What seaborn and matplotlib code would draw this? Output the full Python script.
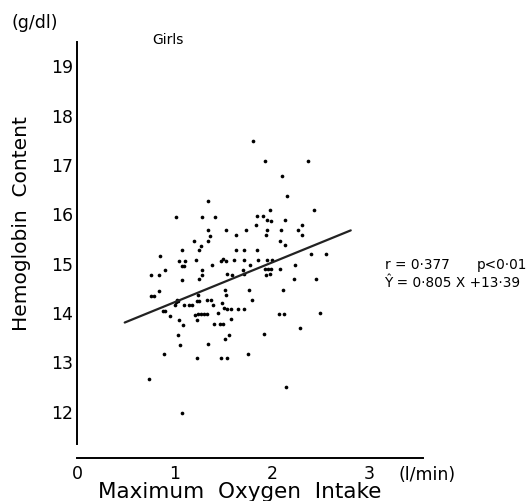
import numpy as np
import seaborn as sns
import matplotlib
matplotlib.use("Agg")
import matplotlib.pyplot as plt

sns.set_theme(style="white")
plt.rcParams['font.family'] = ['DejaVu Sans']
plt.rcParams['text.color'] = 'black'

# maximum oxygen intake (l/min) and hemoglobin content (g/dl), girls
vo2 = [1.81, 1.93, 2.37, 2.10, 2.16, 1.34, 1.98, 2.43, 1.02, 1.28,
       1.42, 1.85, 1.91, 1.95, 1.99, 2.14, 1.84, 2.31, 1.34, 1.53,
       1.73, 1.95, 2.09, 2.27, 1.37, 1.63, 1.94, 2.31, 1.20, 1.34,
       2.08, 2.14, 1.27, 1.08, 1.25, 1.63, 1.71, 1.85, 2.40, 2.56,
       1.50, 0.85, 1.05, 1.11, 1.22, 1.08, 1.10, 1.39, 1.48, 1.53,
       1.61, 1.71, 1.78, 1.86, 1.95, 2.00, 0.90, 0.76, 0.84, 1.28,
       1.28, 1.25, 1.08, 1.54, 1.59, 1.70, 1.71, 1.93, 1.96, 1.99,
       1.94, 1.98, 2.08, 2.24, 2.23, 2.45, 0.84, 0.76, 0.79, 1.24,
       1.52, 1.53, 1.77, 1.80, 2.11, 1.03, 1.02, 1.04, 1.23, 1.25,
       1.33, 1.38, 1.01, 1.10, 1.15, 1.18, 1.40, 1.49, 1.51, 1.54,
       1.58, 1.65, 1.71, 0.88, 0.90, 0.95, 1.21, 1.24, 1.27, 1.30,
       1.33, 1.45, 1.05, 1.23, 1.58, 1.09, 1.41, 1.47, 1.50, 2.07,
       2.13, 2.49, 1.04, 1.56, 1.52, 1.92, 2.29, 1.06, 1.34, 0.89,
       1.23, 1.48, 1.54, 1.76, 0.74, 2.15, 1.08]
hb = [17.46, 17.05, 17.05, 16.75, 16.35, 16.24, 16.06, 16.07, 15.93, 15.93,
      15.93, 15.95, 15.95, 15.86, 15.85, 15.86, 15.76, 15.76, 15.66, 15.66,
      15.66, 15.66, 15.66, 15.66, 15.53, 15.55, 15.56, 15.56, 15.44, 15.44,
      15.44, 15.36, 15.33, 15.25, 15.25, 15.25, 15.25, 15.25, 15.17, 15.17,
      15.07, 15.13, 15.04, 15.04, 15.06, 14.94, 14.94, 14.95, 15.04, 15.04,
      15.05, 15.05, 14.96, 15.05, 15.05, 15.05, 14.85, 14.75, 14.74, 14.84,
      14.75, 14.66, 14.65, 14.76, 14.75, 14.85, 14.76, 14.86, 14.86, 14.86,
      14.75, 14.76, 14.86, 14.96, 14.66, 14.66, 14.43, 14.33, 14.33, 14.35,
      14.44, 14.35, 14.45, 14.24, 14.45, 14.24, 14.20, 14.23, 14.23, 14.23,
      14.25, 14.25, 14.14, 14.14, 14.14, 14.14, 14.15, 14.18, 14.07, 14.06,
      14.05, 14.06, 14.06, 14.01, 14.02, 13.92, 13.93, 13.95, 13.95, 13.95,
      13.95, 13.97, 13.84, 13.84, 13.86, 13.74, 13.76, 13.76, 13.75, 13.96,
      13.96, 13.97, 13.54, 13.54, 13.45, 13.56, 13.68, 13.33, 13.34, 13.14,
      13.06, 13.07, 13.07, 13.15, 12.64, 12.48, 11.96]

# regression: Y = 0.805 X + 13.39, drawn over the data range
slope, intercept = 0.805, 13.39
fit_x = np.array([0.49, 2.81])
fit_y = slope * fit_x + intercept

x_ticks = [0, 1, 2, 3]
y_ticks = [12, 13, 14, 15, 16, 17, 18, 19]

fig = plt.figure(figsize=(5.28, 5.02), dpi=100)
ax = fig.add_axes([0.1458, 0.0857, 0.655, 0.8287])

sns.scatterplot(x=vo2, y=hb, ax=ax, s=7, color='black', linewidth=0)
sns.lineplot(x=fit_x, y=fit_y, ax=ax, color='#222222', linewidth=1.6)

ax.set_xlim(0, 3.55)
ax.set_ylim(11.04, 19.47)
ax.set_xticks(x_ticks)
ax.set_yticks(y_ticks)
ax.tick_params(direction='in', length=4, width=1.2, labelsize=12.5,
               colors='black', pad=3)
ax.tick_params(axis='x', pad=4)
for side in ['top', 'right']:
    ax.spines[side].set_visible(False)
for side in ['left', 'bottom']:
    ax.spines[side].set_linewidth(1.4)
    ax.spines[side].set_color('black')
ax.spines['left'].set_bounds(11.33, 19.47)
ax.set_xlabel('')
ax.set_ylabel('')
ax.grid(False)

fig.text(0.04, 0.555, 'Hemoglobin  Content', rotation=90, fontsize=14.5,
         ha='center', va='center')
fig.text(0.454, 0.02, 'Maximum  Oxygen  Intake', fontsize=15.5,
         ha='center', va='center')
fig.text(0.755, 0.054, '(l/min)', fontsize=12.5, ha='left', va='center')
fig.text(0.022, 0.955, '(g/dl)', fontsize=12.5, ha='left', va='center')
fig.text(0.288, 0.92, 'Girls', fontsize=10, ha='left', va='center')
fig.text(0.729, 0.472, 'r = 0\u00b7377', fontsize=9.8, ha='left', va='center')
fig.text(0.903, 0.472, 'p<0\u00b701', fontsize=9.8, ha='left', va='center')
fig.text(0.727, 0.437, '\u0176 = 0\u00b7805 X +13\u00b739', fontsize=9.8,
         ha='left', va='center')

fig.savefig('out.png', dpi=100, facecolor='white')
